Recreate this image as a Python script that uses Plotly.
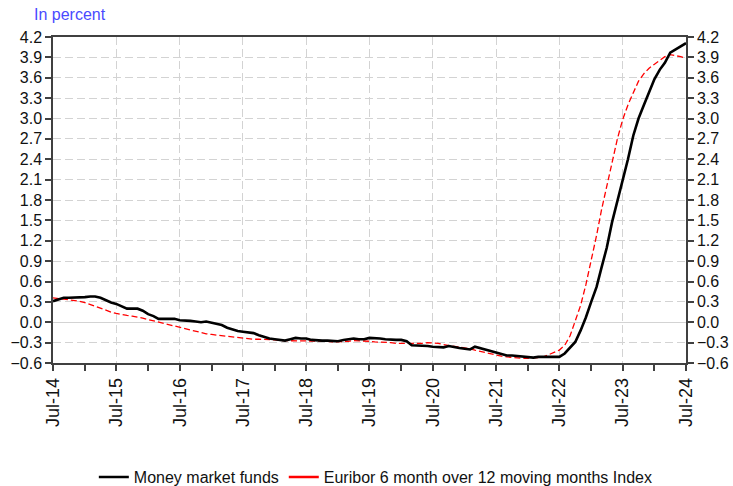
import pandas as pd
import plotly.graph_objects as go

dates = pd.date_range("2014-07-01", "2024-07-01", freq="MS")

money_market_funds = [
    0.31, 0.34, 0.36, 0.36, 0.36, 0.37, 0.37, 0.38, 0.38, 0.36, 0.32, 0.29,
    0.27, 0.24, 0.20, 0.20, 0.20, 0.17, 0.12, 0.09, 0.05, 0.05, 0.05, 0.05,
    0.03, 0.03, 0.02, 0.01, 0.00, 0.01, -0.01, -0.02, -0.04, -0.08, -0.11, -0.13,
    -0.14, -0.15, -0.16, -0.19, -0.22, -0.24, -0.25, -0.26, -0.27, -0.25, -0.23, -0.24,
    -0.24, -0.26, -0.27, -0.27, -0.27, -0.28, -0.28, -0.26, -0.25, -0.24, -0.25, -0.25,
    -0.23, -0.23, -0.24, -0.25, -0.26, -0.26, -0.26, -0.28, -0.34, -0.34, -0.35, -0.35,
    -0.36, -0.37, -0.37, -0.35, -0.37, -0.38, -0.39, -0.40, -0.36, -0.38, -0.40, -0.42,
    -0.44, -0.47, -0.49, -0.49, -0.50, -0.50, -0.51, -0.52, -0.51, -0.51, -0.51, -0.52,
    -0.51, -0.46, -0.38, -0.29, -0.12, 0.07, 0.30, 0.52, 0.80, 1.10, 1.47, 1.78,
    2.09, 2.40, 2.75, 3.00, 3.20, 3.40, 3.58, 3.72, 3.82, 3.97, 4.02, 4.06,
    4.11,
]

euribor_6m_12mma = [
    0.36, 0.35, 0.35, 0.34, 0.33, 0.31, 0.29, 0.26, 0.24, 0.21, 0.18, 0.15,
    0.13, 0.11, 0.10, 0.09, 0.08, 0.06, 0.04, 0.02, 0.00, -0.02, -0.04, -0.06,
    -0.08, -0.10, -0.12, -0.14, -0.16, -0.17, -0.18, -0.19, -0.20, -0.21, -0.22, -0.22,
    -0.23, -0.24, -0.25, -0.25, -0.25, -0.26, -0.26, -0.27, -0.27, -0.27, -0.27, -0.27,
    -0.27, -0.27, -0.28, -0.28, -0.28, -0.29, -0.29, -0.28, -0.28, -0.27, -0.27, -0.27,
    -0.28, -0.29, -0.29, -0.30, -0.30, -0.31, -0.31, -0.32, -0.32, -0.31, -0.31, -0.30,
    -0.30, -0.31, -0.33, -0.34, -0.35, -0.36, -0.38, -0.39, -0.41, -0.43, -0.45, -0.47,
    -0.48, -0.50, -0.51, -0.52, -0.52, -0.53, -0.53, -0.53, -0.52, -0.51, -0.48, -0.45,
    -0.41, -0.34, -0.20, 0.02, 0.25, 0.55, 0.90, 1.28, 1.65, 2.00, 2.38, 2.70,
    2.98, 3.20, 3.38, 3.55, 3.66, 3.74, 3.80, 3.86, 3.91, 3.94, 3.93, 3.91,
    3.89,
]

x_tick_vals = [f"{y}-07-01" for y in range(2014, 2025)]
x_tick_text = [f"Jul-{str(y)[2:]}" for y in range(2014, 2025)]
x_minor_vals = [f"{y}-01-01" for y in range(2015, 2025)]
y_range = [-0.6, 4.2]

font_family = "Liberation Sans, Arial, sans-serif"
axis_col = "#404040"
grid_col = "#d3d3d3"

fig = go.Figure()
fig.add_trace(go.Scatter(
    x=dates, y=euribor_6m_12mma, mode="lines",
    name="Euribor 6 month over 12 moving months Index",
    line=dict(color="#ff0000", width=1.3, dash="6px,3px"),
    showlegend=False,
))
fig.add_trace(go.Scatter(
    x=dates, y=money_market_funds, mode="lines",
    name="Money market funds",
    line=dict(color="#000000", width=2.6),
    showlegend=False,
))
# legend entries
fig.add_trace(go.Scatter(x=[None], y=[None], mode="lines", name="Money market funds",
                         line=dict(color="#000000", width=2.6)))
fig.add_trace(go.Scatter(x=[None], y=[None], mode="lines",
                         name="Euribor 6 month over 12 moving months Index",
                         line=dict(color="#ff0000", width=2.6)))
# invisible trace for the right axis
fig.add_trace(go.Scatter(x=dates, y=money_market_funds, yaxis="y2", mode="lines",
                         line=dict(width=0, color="rgba(0,0,0,0)"),
                         showlegend=False, hoverinfo="skip"))

fig.update_layout(
    width=733, height=486,
    margin=dict(l=53, r=47, t=37, b=123, autoexpand=False),
    paper_bgcolor="white", plot_bgcolor="white",
    font=dict(family=font_family, size=16, color="#111111"),
    xaxis=dict(
        type="date", automargin=False,
        range=["2014-07-01", "2024-07-01"],
        tickvals=x_tick_vals, ticktext=x_tick_text, tickangle=-90,
        ticks="outside", ticklen=6, tickwidth=2, tickcolor=axis_col,
        showline=True, linecolor=axis_col, linewidth=1.5, mirror=True,
        showgrid=True, gridcolor=grid_col, griddash="8px,4px", gridwidth=1,
        minor=dict(tickvals=x_minor_vals, ticks="outside", ticklen=6,
                   tickwidth=2, tickcolor=axis_col, showgrid=False),
        tickfont=dict(size=18),
    ),
    yaxis=dict(
        range=y_range, dtick=0.3, tick0=0, tickformat=".1f", automargin=False,
        ticks="outside", ticklen=6, tickwidth=2, tickcolor=axis_col,
        showline=True, linecolor=axis_col, linewidth=1.5,
        showgrid=True, gridcolor=grid_col, griddash="8px,4px", gridwidth=1,
        zeroline=True, zerolinecolor=grid_col, zerolinewidth=1.2,
        tickfont=dict(size=16),
    ),
    yaxis2=dict(
        range=y_range, dtick=0.3, tick0=0, tickformat=".1f", automargin=False,
        overlaying="y", side="right",
        ticks="outside", ticklen=6, tickwidth=2, tickcolor=axis_col,
        showline=True, linecolor=axis_col, linewidth=1.5,
        showgrid=False, zeroline=False,
        tickfont=dict(size=16),
    ),
    legend=dict(orientation="h", x=0.51, xanchor="center", y=-0.35, yanchor="middle",
                font=dict(size=16), bgcolor="rgba(0,0,0,0)"),
    annotations=[dict(text="In percent", xref="paper", yref="paper",
                      x=-0.033, y=1.07, xanchor="left", yanchor="middle",
                      showarrow=False, font=dict(size=16, color="#4a4aff"))],
)

fig.write_html("out.html", config={"displayModeBar": False},
               post_script="document.body.style.margin='0';")
